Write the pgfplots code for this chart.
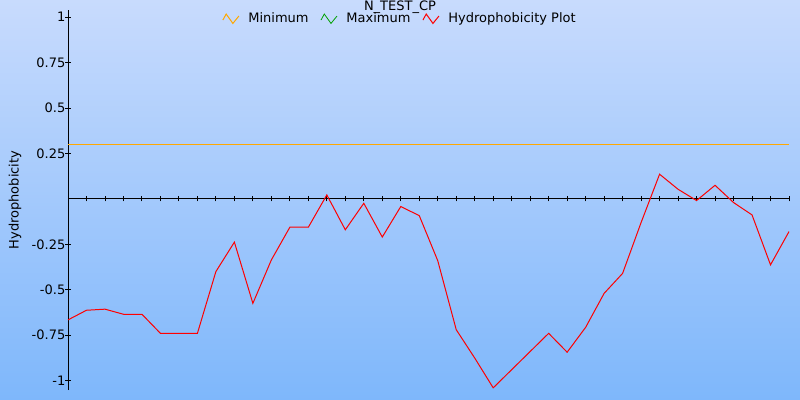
\documentclass[border=0pt]{standalone}
\usepackage{pgfplots}
\pgfplotsset{compat=1.18}
\usepackage{fontspec}
\setmainfont{DejaVu Sans}
\definecolor{bgtop}{RGB}{200,219,253}
\definecolor{bgbot}{RGB}{126,183,251}
\definecolor{minorange}{RGB}{255,168,0}
\definecolor{maxgreen}{RGB}{0,160,0}
\pgfplotstableread{
i v
0 -0.666
1 -0.613
2 -0.607
3 -0.635
4 -0.635
5 -0.740
6 -0.740
7 -0.740
8 -0.400
9 -0.238
10 -0.575
11 -0.336
12 -0.156
13 -0.156
14 0.022
15 -0.170
16 -0.024
17 -0.210
18 -0.042
19 -0.092
20 -0.340
21 -0.720
22 -0.876
23 -1.040
24 -0.940
25 -0.840
26 -0.740
27 -0.844
28 -0.707
29 -0.520
30 -0.410
31 -0.130
32 0.136
33 0.053
34 -0.009
35 0.075
36 -0.020
37 -0.088
38 -0.363
39 -0.180
}\hydro
\pgfplotstableread{
i v
0 0.3
39 0.3
}\minline
\begin{document}
\fontsize{13bp}{15bp}\selectfont
\begin{tikzpicture}
\path[use as bounding box] (0,0) rectangle (800bp,400bp);
\shade[top color=bgtop, bottom color=bgbot] (0,0) rectangle (800bp,400bp);
\begin{axis}[
  at={(68bp,10bp)}, anchor=south west,
  scale only axis, width=721bp, height=380bp,
  xmin=0, xmax=39, ymin=-1.052, ymax=1.04,
  axis x line=middle, axis y line=left,
  axis line style={-, black, line width=0.9bp},
  every inner x axis line/.append style={-},
  every outer y axis line/.append style={-},
  xtick={1,...,39}, xticklabels={},
  ytick={-1,-0.75,-0.5,-0.25,0.25,0.5,0.75,1},
  yticklabels={-1,-0.75,-0.5,-0.25,0.25,0.5,0.75,1},
  tick align=center, major tick length=5bp,
  tick style={black, line width=0.9bp},
  yticklabel style={font=\fontsize{13bp}{15bp}\selectfont, anchor=east, xshift=1bp, inner sep=1bp},
  ylabel={Hydrophobicity},
  every axis y label/.style={at={(axis description cs:-0.0735,0.5)}, rotate=90, anchor=center, font=\fontsize{13bp}{15bp}\selectfont},
  title={N\_TEST\_CP},
  every axis title/.style={at={(axis description cs:0.4605,1)}, anchor=base, inner sep=0pt, yshift=-0.5bp, font=\fontsize{13bp}{15bp}\selectfont},
  legend columns=3,
  legend style={at={(axis description cs:0.4605,0.977)}, anchor=center, draw=none, fill=none,
    font=\fontsize{13bp}{15bp}\selectfont, inner sep=0pt,
    /tikz/every odd column/.append style={column sep=7bp},
    /tikz/every even column/.append style={column sep=10bp}},
  legend image code/.code={\draw[#1] (0bp,-1.3bp) -- (3.3bp,4.7bp) -- (10bp,-4.7bp) -- (16bp,2.7bp);},
  clip=false,
]
\addplot[color=minorange, line width=1bp] table[x=i, y=v] {\minline};
\addlegendentry{Minimum}
\addlegendimage{color=maxgreen, line width=0.8bp}
\addlegendentry{Maximum}
\addplot[color=red, line width=1bp] table[x=i, y=v] {\hydro};
\addlegendentry{Hydrophobicity Plot}
\end{axis}
\end{tikzpicture}
\end{document}
